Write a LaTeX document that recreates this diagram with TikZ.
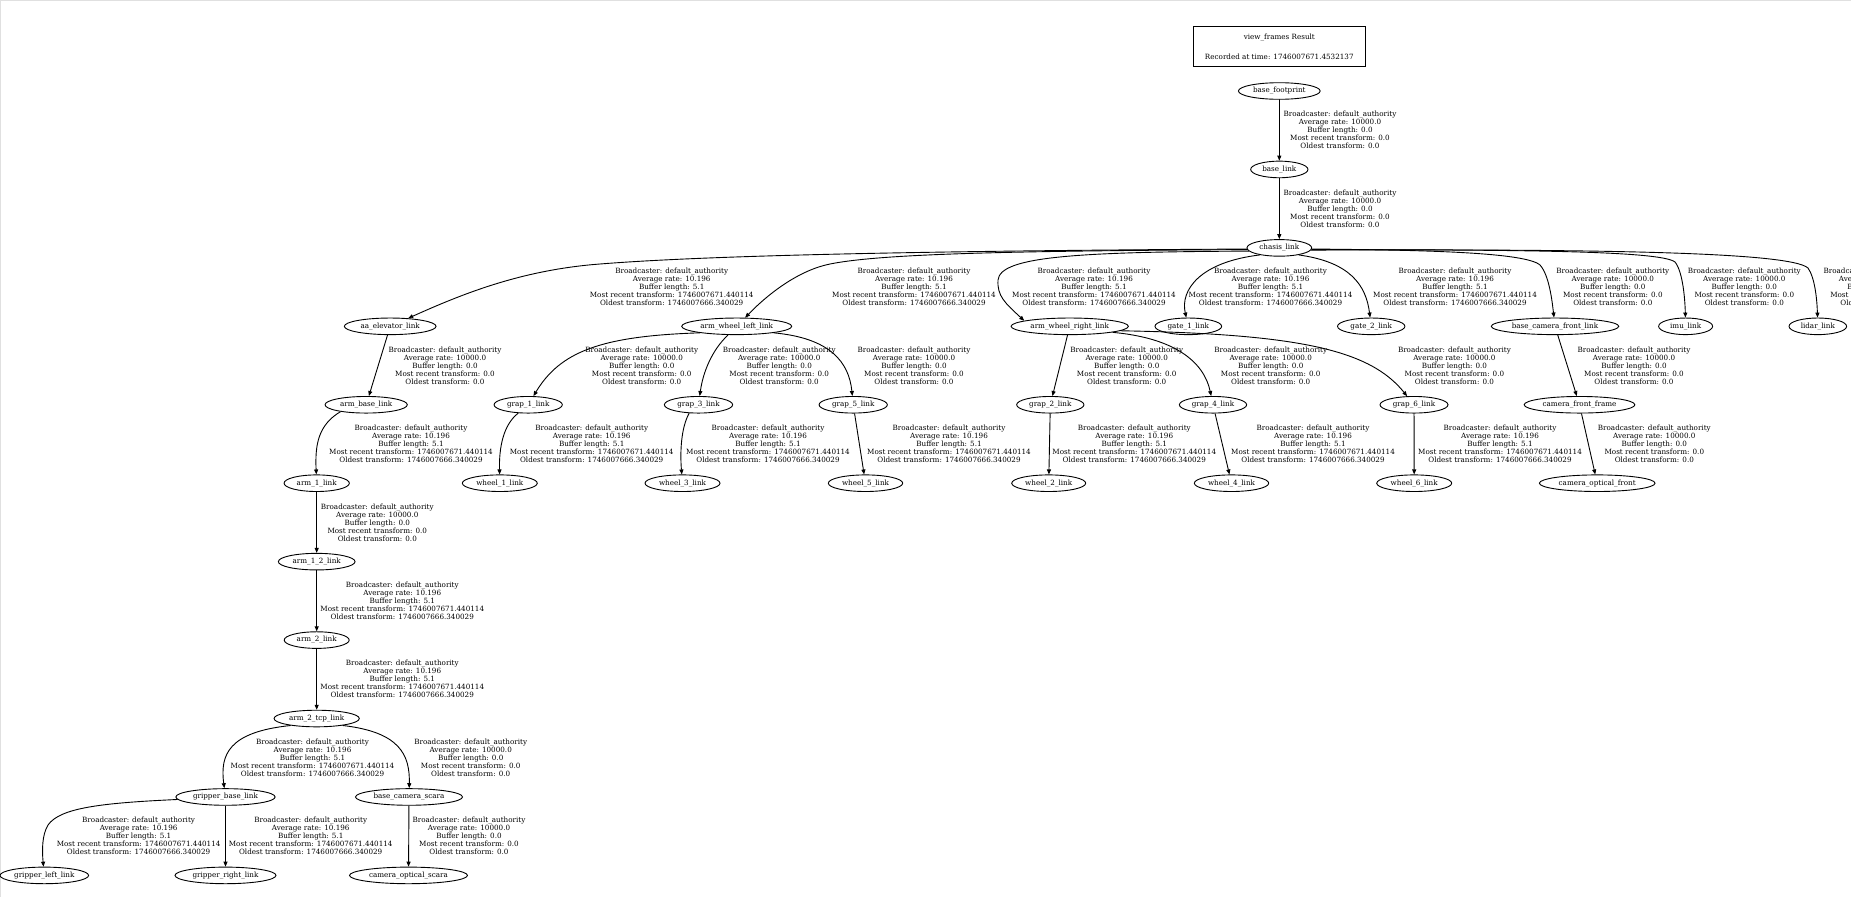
\documentclass[tikz,border=0pt]{standalone}
\usepackage{fontspec}
\setmainfont{DejaVu Serif}
\usetikzlibrary{shapes.geometric,arrows.meta}
\newcommand\nfont{\fontsize{7.2}{8}\selectfont}
\newcommand\labA{Broadcaster: default\_authority\\Average rate: 10000.0\\Buffer length: 0.0\\Most recent transform: 0.0\\Oldest transform: 0.0}
\newcommand\labB{Broadcaster: default\_authority\\Average rate: 10.196\\Buffer length: 5.1\\Most recent transform: 1746007671.440114\\Oldest transform: 1746007666.340029}
\tikzset{
 frame/.style={ellipse, draw, line width=0.9pt, inner sep=0pt, minimum height=16.6pt, font=\nfont},
 lbl/.style={align=center, inner sep=0pt, font=\nfont},
 edge/.style={-{Triangle[length=5pt,width=4pt]}, line width=0.9pt},
 titlebox/.style={draw, line width=0.9pt, inner sep=0pt, minimum width=172pt, minimum height=40.4pt, align=center, font=\nfont},
}
\begin{document}
\begin{tikzpicture}[x=1pt,y=-1pt]
\clip (0,0) rectangle (1851,897);
\fill[white] (0,0) rectangle (1851,897);
\draw[black!12, line width=1.2pt] (0.6,897) -- (0.6,0.6) -- (1851,0.6);
% title
\node[titlebox] (title) at (1279.3,46.5) {view\_frames Result\\[12pt]Recorded at time: 1746007671.4532137};
% nodes
\node[frame, minimum width=81.7pt] (bf) at (1279.3,91) {base\_footprint};
\node[frame, minimum width=57.3pt] (bl) at (1279.3,169.44) {base\_link};
\node[frame, minimum width=64.7pt] (ch) at (1279.3,247.88) {chasis\_link};
\node[frame, minimum width=91.7pt] (aa) at (390.2,326.32) {aa\_elevator\_link};
\node[frame, minimum width=110pt] (awl) at (736.7,326.32) {arm\_wheel\_left\_link};
\node[frame, minimum width=117.3pt] (awr) at (1069.7,326.32) {arm\_wheel\_right\_link};
\node[frame, minimum width=66.7pt] (gate1) at (1188.3,326.32) {gate\_1\_link};
\node[frame, minimum width=67.4pt] (gate2) at (1371.2,326.32) {gate\_2\_link};
\node[frame, minimum width=127.5pt] (bcf) at (1555,326.32) {base\_camera\_front\_link};
\node[frame, minimum width=54pt] (imu) at (1685.6,326.32) {imu\_link};
\node[frame, minimum width=57.6pt] (lidar) at (1817.8,326.32) {lidar\_link};
\node[frame, minimum width=82.3pt] (ab) at (366.2,404.76) {arm\_base\_link};
\node[frame, minimum width=68.3pt] (g1) at (528.2,404.76) {grap\_1\_link};
\node[frame, minimum width=68.3pt] (g3) at (698.5,404.76) {grap\_3\_link};
\node[frame, minimum width=68.3pt] (g5) at (853.2,404.76) {grap\_5\_link};
\node[frame, minimum width=67.3pt] (g2) at (1050.3,404.76) {grap\_2\_link};
\node[frame, minimum width=67.3pt] (g4) at (1213,404.76) {grap\_4\_link};
\node[frame, minimum width=68pt] (g6) at (1414,404.76) {grap\_6\_link};
\node[frame, minimum width=110.7pt] (cff) at (1579.5,404.76) {camera\_front\_frame};
\node[frame, minimum width=65.3pt] (arm1) at (316.7,483.2) {arm\_1\_link};
\node[frame, minimum width=75pt] (w1) at (499.8,483.2) {wheel\_1\_link};
\node[frame, minimum width=75pt] (w3) at (682.5,483.2) {wheel\_3\_link};
\node[frame, minimum width=74.4pt] (w5) at (865.5,483.2) {wheel\_5\_link};
\node[frame, minimum width=74pt] (w2) at (1048.7,483.2) {wheel\_2\_link};
\node[frame, minimum width=74.4pt] (w4) at (1231.5,483.2) {wheel\_4\_link};
\node[frame, minimum width=75pt] (w6) at (1414.2,483.2) {wheel\_6\_link};
\node[frame, minimum width=115.7pt] (cof) at (1597.2,483.2) {camera\_optical\_front};
\node[frame, minimum width=76.7pt] (arm12) at (316.7,561.64) {arm\_1\_2\_link};
\node[frame, minimum width=65pt] (arm2) at (316.7,640.08) {arm\_2\_link};
\node[frame, minimum width=85.3pt] (tcp) at (316.7,718.52) {arm\_2\_tcp\_link};
\node[frame, minimum width=99.3pt] (gb) at (225.5,796.96) {gripper\_base\_link};
\node[frame, minimum width=107pt] (bcs) at (409,796.96) {base\_camera\_scara};
\node[frame, minimum width=88.6pt] (gl) at (44.3,875.4) {gripper\_left\_link};
\node[frame, minimum width=101pt] (gr) at (225.5,875.4) {gripper\_right\_link};
\node[frame, minimum width=118pt] (cos) at (408.5,875.4) {camera\_optical\_scara};
% edges
\draw[edge] (bf) -- (bl);
\draw[edge] (bl) -- (ch);
\draw[edge] (ch.182) .. controls (900,251) and (700,256) .. (600,264) .. controls (520,270) and (460,295) .. (aa);
\draw[edge] (ch.183) .. controls (1000,251) and (880,254) .. (830,264) .. controls (800,270) and (770,292) .. (awl);
\draw[edge] (ch.186) .. controls (1080,252) and (1000,256) .. (998,280) .. controls (997,296) and (1005,303) .. (awr.173);
\draw[edge] (ch.200) .. controls (1200,262) and (1180,290) .. (gate1);
\draw[edge] (ch.340) .. controls (1350,262) and (1366,285) .. (gate2);
\draw[edge] (ch.358) .. controls (1420,250) and (1525,252) .. (1540,265) .. controls (1549,275) and (1552,300) .. (bcf);
\draw[edge] (ch.357) .. controls (1500,250) and (1660,250) .. (1675,262) .. controls (1683,272) and (1685,300) .. (imu);
\draw[edge] (ch.356) .. controls (1600,249) and (1790,252) .. (1808,268) .. controls (1815,278) and (1817,300) .. (lidar);
\draw[edge] (aa) -- (ab);
\draw[edge] (ab.195) .. controls (318,425) and (315,445) .. (arm1);
\draw[edge] (arm1) -- (arm12);
\draw[edge] (arm12) -- (arm2);
\draw[edge] (arm2) -- (tcp);
\draw[edge] (tcp.195) .. controls (228,732) and (220,755) .. (gb);
\draw[edge] (tcp.345) .. controls (400,732) and (410,755) .. (bcs);
\draw[edge] (gb.183) .. controls (100,803) and (60,808) .. (48,825) .. controls (42,835) and (42,850) .. (gl);
\draw[edge] (gb) -- (gr);
\draw[edge] (bcs) -- (cos);
\draw[edge] (awl.190) .. controls (600,336) and (560,352) .. (g1);
\draw[edge] (awl.225) .. controls (712,350) and (703,372) .. (g3);
\draw[edge] (awl.350) .. controls (830,338) and (849,362) .. (g5);
\draw[edge] (awr) -- (g2);
\draw[edge] (awr.352) .. controls (1175,338) and (1204,362) .. (g4);
\draw[edge] (awr.355) .. controls (1300,334) and (1370,350) .. (g6);
\draw[edge] (bcf) -- (cff);
\draw[edge] (g1.220) .. controls (503,425) and (499,448) .. (w1);
\draw[edge] (g3.222) .. controls (681,428) and (680,452) .. (w3);
\draw[edge] (g5) -- (w5);
\draw[edge] (g2) -- (w2);
\draw[edge] (g4) -- (w4);
\draw[edge] (g6) -- (w6);
\draw[edge] (cff) -- (cof);
% labels
\node[lbl] (l1) at (1340,130.22) {\labA};
\node[lbl] (l2) at (1340,208.66) {\labA};
\node[lbl] (l3) at (671.7,287.1) {\labB};
\node[lbl] (l4) at (914,287.1) {\labB};
\node[lbl] (l5) at (1094,287.1) {\labB};
\node[lbl] (l6) at (1270.5,287.1) {\labB};
\node[lbl] (l7) at (1455,287.1) {\labB};
\node[lbl] (l8) at (1612.8,287.1) {\labA};
\node[lbl] (l9) at (1744.3,287.1) {\labA};
\node[lbl] (l10) at (1880,287.1) {\labA};
\node[lbl] (l11) at (445,365.54) {\labA};
\node[lbl] (l21) at (641.7,365.54) {\labA};
\node[lbl] (l22) at (779.2,365.54) {\labA};
\node[lbl] (l23) at (914,365.54) {\labA};
\node[lbl] (l24) at (1126.7,365.54) {\labA};
\node[lbl] (l25) at (1270.7,365.54) {\labA};
\node[lbl] (l26) at (1454.4,365.54) {\labA};
\node[lbl] (l27) at (1634,365.54) {\labA};
\node[lbl] (l12) at (411,443.98) {\labB};
\node[lbl] (l28) at (591.7,443.98) {\labB};
\node[lbl] (l29) at (768,443.98) {\labB};
\node[lbl] (l30) at (949,443.98) {\labB};
\node[lbl] (l31) at (1134.3,443.98) {\labB};
\node[lbl] (l32) at (1313,443.98) {\labB};
\node[lbl] (l33) at (1500,443.98) {\labB};
\node[lbl] (l34) at (1654.3,443.98) {\labA};
\node[lbl] (l13) at (377.3,522.42) {\labA};
\node[lbl] (l14) at (402.3,600.86) {\labB};
\node[lbl] (l15) at (402.3,679.3) {\labB};
\node[lbl] (l16) at (312.5,757.74) {\labB};
\node[lbl] (l17) at (470.7,757.74) {\labA};
\node[lbl] (l18) at (138.6,836.18) {\labB};
\node[lbl] (l19) at (310.7,836.18) {\labB};
\node[lbl] (l20) at (469,836.18) {\labA};
\end{tikzpicture}
\end{document}
